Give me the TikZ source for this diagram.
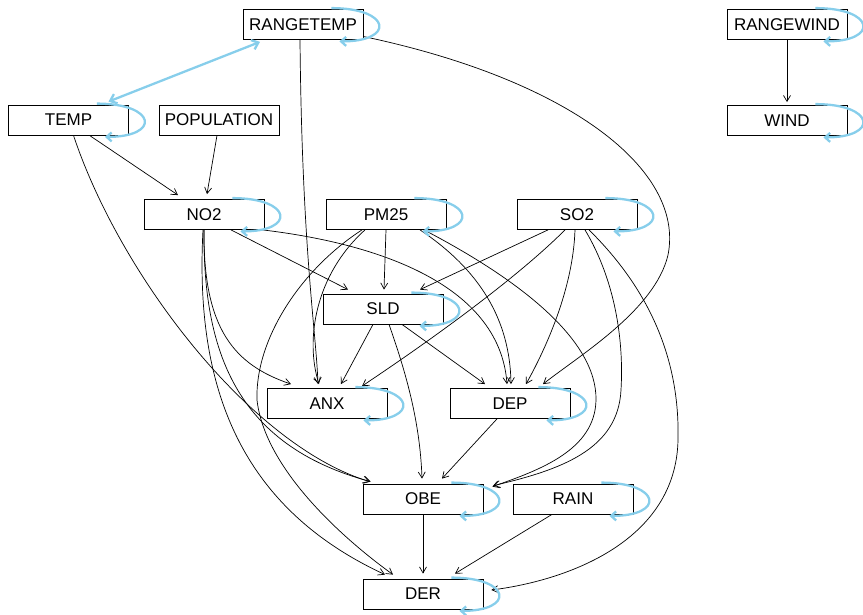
\documentclass[tikz,border=0pt]{standalone}
\usepackage{fontspec}
\setmainfont{Liberation Sans}
\usetikzlibrary{arrows.meta,calc}
\definecolor{loopblue}{RGB}{135,206,235}
\begin{document}
\begin{tikzpicture}[x=1pt,y=-1pt,
  var/.style={draw=black, line width=0.8pt, minimum width=120pt, minimum height=30pt, inner sep=0pt, font=\fontsize{17}{20}\selectfont},
  edge/.style={draw=black, line width=0.7pt, -{Straight Barb[length=6pt,width=7pt]}},
  selfloop/.style={draw=loopblue, line width=2.3pt, -{Straight Barb[length=5pt,width=9pt]}},
  both/.style={draw=loopblue, line width=2.3pt, {Straight Barb[length=6pt,width=10pt]}-{Straight Barb[length=6pt,width=10pt]}}]
\useasboundingbox (0,0) rectangle (863,615);

\node[var] (RT)   at (303,24.5) {RANGETEMP};
\node[var] (RW)   at (787,24.5) {RANGEWIND};
\node[var] (TEMP) at (68.5,120) {TEMP};
\node[var] (POP)  at (219,120) {POPULATION};
\node[var] (WIND) at (787,120.5) {WIND};
\node[var] (NO2)  at (204,214.5) {NO2};
\node[var] (PM25) at (386,214.5) {PM25};
\node[var] (SO2)  at (577,214.5) {SO2};
\node[var] (SLD)  at (383,309) {SLD};
\node[var] (ANX)  at (327,403.5) {ANX};
\node[var] (DEP)  at (510,403.5) {DEP};
\node[var] (OBE)  at (423,499) {OBE};
\node[var] (RAIN) at (573,499) {RAIN};
\node[var] (DER)  at (423,594) {DER};

\draw[both] ([xshift=-43pt,yshift=-2pt]RT.south) -- ([xshift=40pt,yshift=3pt]TEMP.north);
\draw[edge] ([xshift=-3pt]RT.south) .. controls (302,250) and (316,330) .. ([xshift=-9pt,yshift=4pt]ANX.north);
\draw[edge] ([yshift=-12pt]RT.east) .. controls (570,80) and (685,170) .. (668,255) .. controls (655,310) and (580,355) .. ([xshift=33pt,yshift=4pt]DEP.north);
\draw[edge] (RW) -- ([yshift=3pt]WIND.north);
\draw[edge] ([xshift=21pt]TEMP.south) -- ([xshift=-26pt,yshift=4pt]NO2.north);
\draw[edge] ([xshift=-2pt]POP.south) -- ([xshift=3pt,yshift=5pt]NO2.north);
\draw[edge] ([xshift=5pt]TEMP.south) .. controls (120,275) and (250,445) .. ([xshift=7pt,yshift=2pt]OBE.north west);
\draw[edge] ([xshift=27pt]NO2.south) -- ([xshift=-35pt,yshift=4pt]SLD.north);
\draw[edge] (NO2.south) .. controls (203,330) and (235,365) .. ([xshift=-36pt,yshift=4pt]ANX.north);
\draw[edge] ([xshift=-2pt]NO2.south east) .. controls (390,245) and (500,290) .. ([xshift=-3pt,yshift=4pt]DEP.north);
\draw[edge] (NO2.south) .. controls (203,350) and (235,445) .. ([xshift=8pt,yshift=2pt]OBE.north west);
\draw[edge] ([xshift=-1pt]NO2.south) .. controls (195,380) and (235,505) .. ([xshift=-38pt,yshift=4pt]DER.north);
\draw[edge] (PM25.south) -- ([xshift=1pt,yshift=4pt]SLD.north);
\draw[edge] ([xshift=-21pt]PM25.south) .. controls (315,275) and (305,340) .. ([xshift=-8pt,yshift=4pt]ANX.north);
\draw[edge] ([xshift=-24pt]PM25.south) .. controls (300,270) and (255,340) .. (257,400) .. controls (265,470) and (345,540) .. ([xshift=-30pt,yshift=4pt]DER.north);
\draw[edge] ([xshift=34pt]PM25.south) .. controls (480,270) and (510,320) .. ([xshift=1pt,yshift=4pt]DEP.north);
\draw[edge] ([xshift=38pt]PM25.south) .. controls (520,280) and (597,340) .. (596,400) .. controls (595,450) and (540,470) .. ([xshift=9pt,yshift=-3pt]OBE.north east);
\draw[edge] ([xshift=-29pt]SO2.south) -- ([xshift=37pt,yshift=4pt]SLD.north);
\draw[edge] ([xshift=-12pt]SO2.south) .. controls (525,270) and (452,326) .. ([xshift=35pt,yshift=2pt]ANX.north);
\draw[edge] ([xshift=-2pt]SO2.south) .. controls (573,290) and (545,350) .. ([xshift=16pt,yshift=4pt]DEP.north);
\draw[edge] ([xshift=8pt]SO2.south) .. controls (615,280) and (624,340) .. (621,390) .. controls (618,450) and (560,470) .. ([xshift=10pt,yshift=-2pt]OBE.north east);
\draw[edge] ([xshift=12pt]SO2.south) .. controls (650,290) and (680,360) .. (678,440) .. controls (676,540) and (570,580) .. ([xshift=8pt,yshift=4pt]DER.east);
\draw[edge] ([xshift=-10pt]SLD.south) -- ([xshift=14pt,yshift=4pt]ANX.north);
\draw[edge] ([xshift=19pt]SLD.south) -- ([xshift=-25pt,yshift=4pt]DEP.north);
\draw[edge] ([xshift=6pt]SLD.south) .. controls (405,370) and (420,420) .. ([xshift=-1pt,yshift=5pt]OBE.north);
\draw[edge] ([xshift=-13pt]DEP.south) -- ([xshift=19pt,yshift=5pt]OBE.north);
\draw[edge] (OBE.south) -- ([yshift=5pt]DER.north);
\draw[edge] ([xshift=-21pt]RAIN.south) -- ([xshift=32pt,yshift=5pt]DER.north);

\foreach \n in {RT,RW,TEMP,WIND,NO2,PM25,SO2,SLD,ANX,DEP,OBE,RAIN,DER}
  \draw[selfloop] ([xshift=-32pt,yshift=1pt]\n.north east) .. controls +(60pt,0pt) and +(56pt,0pt) .. ([xshift=-24pt,yshift=-1.5pt]\n.south east);
\end{tikzpicture}
\end{document}
